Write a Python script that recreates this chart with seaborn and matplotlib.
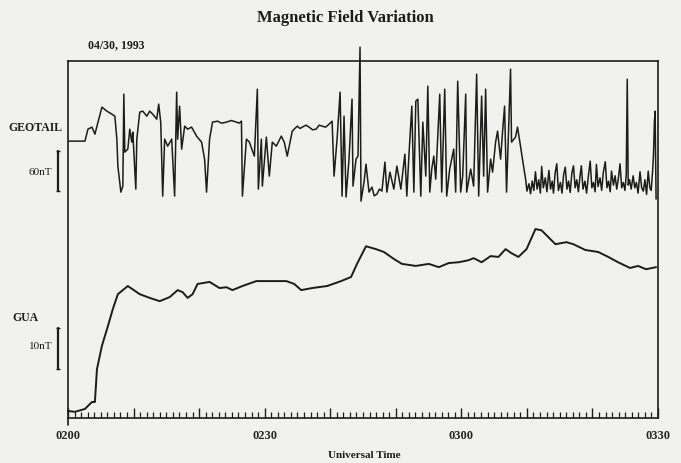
## import packages
import pandas as pd
import numpy as np
import matplotlib
matplotlib.use('Agg')
import matplotlib.pyplot as plt
from matplotlib.ticker import MultipleLocator, FuncFormatter
import seaborn as sns

## data: minutes after 0200 UT, field deviation in nT
geotail_min = [0.15, 2.58, 3.04, 3.65, 4.10, 5.17, 5.93, 6.69, 7.14, 7.45, 7.60, 8.06, 8.36, 8.51,
               8.66, 9.12, 9.42, 9.73, 9.88, 10.34, 10.49, 10.94, 11.40, 12.01, 12.46, 12.92, 13.53,
               13.83, 14.14, 14.44, 14.74, 15.20, 15.81, 16.26, 16.57, 16.72, 17.02, 17.33, 17.79,
               18.24, 18.85, 19.61, 20.37, 20.83, 21.13, 21.59, 22.04, 22.80, 23.40, 24.17, 24.90, 25.69, 26.10, 26.45,
               26.60, 27.21, 27.66, 28.42, 28.88, 29.03, 29.49, 29.64, 30.25, 30.70, 31.16, 31.77,
               32.53, 32.98, 33.44, 34.20, 34.96, 35.40, 35.72, 36.30, 36.78, 37.30, 37.85, 38.30, 38.76, 39.30, 39.82, 40.28, 40.58,
               41.04, 41.50, 41.80, 42.10, 42.41, 42.86, 43.32, 43.47, 43.93, 44.23, 44.54, 44.69,
               45.15, 45.45, 45.91, 46.36, 46.70, 47.12, 47.50, 47.88, 48.34, 48.64, 49.10, 49.70, 50.16, 50.77,
               51.38, 51.68, 51.99, 52.44, 52.75, 53.05, 53.36, 53.81, 54.12, 54.57, 54.88, 55.18,
               55.48, 55.79, 56.09, 56.70, 57.00, 57.46, 57.76, 58.22, 58.83, 59.13, 59.44, 59.89,
               60.20, 60.66, 60.81, 61.42, 61.87, 62.33, 62.64, 63.09, 63.40, 63.70, 64.00, 64.46,
               64.76, 65.22, 65.52, 65.98, 66.28, 66.59, 66.89, 67.50, 67.65, 68.26, 68.56, 69.02, 69.48,
               69.80, 70.00, 70.30, 70.55, 70.80, 71.05, 71.30, 71.55, 71.80, 72.05,
               72.25, 72.50, 72.80, 73.05, 73.35, 73.60, 73.85, 74.05, 74.30, 74.55,
               74.80, 75.10, 75.35, 75.60, 75.85, 76.10, 76.35, 76.60, 76.85, 77.10,
               77.35, 77.60, 77.85, 78.10, 78.30, 78.55, 78.85, 79.10, 79.40, 79.65,
               79.90, 80.15, 80.40, 80.60, 80.85, 81.15, 81.40, 81.65, 81.95, 82.20,
               82.45, 82.70, 82.90, 83.20, 83.45, 83.70, 83.95, 84.20, 84.45, 84.70,
               84.95, 85.15, 85.30, 85.45, 85.65, 85.90, 86.20, 86.45, 86.70, 86.95,
               87.25, 87.50, 87.75, 88.00, 88.25, 88.50, 88.75, 88.95, 89.15, 89.30,
               89.45, 89.55, 89.70]
geotail_nT = [0, 0, 18, 21, 10.5, 51, 45, 40.5, 37.5, 3, -37.5, -76.5, -67.5, 70.5,
              -16.5, -12, 18, -1.5, 13.5, -72, 3, 43.5, 45, 37.5, 45, 40.5, 33,
              55.5, 28.5, -82.5, 3, -7.5, 3, -82.5, 73.5, 3, 52.5, -12, 22.5,
              18, 21, 7.5, -1.5, -27, -76.5, 3, 28.5, 30, 27, 28.5, 31, 28.5, 27, 30,
              -82.5, 3, -1.5, -22.5, 78, -72, 3, -67.5, 6, -52.5, -1.5, -7.5,
              7.5, -1.5, -22.5, 15, 22.5, 19, 21, 24, 21, 17, 18, 24, 22.5, 21, 25.5, 30, -52.5,
              3, 73.5, -82.5, 37.5, -84, -27, 63, -67.5, -27, -22.5, 141, -90,
              -61.5, -34.5, -76.5, -69, -82, -79.5, -72, -75, -31.5, -76.5, -46.5, -72, -37.5, -72,
              -19.5, -82.5, -22.5, 52.5, -76.5, 60, 63, -82.5, 28.5, -52.5, 82.5, -76.5,
              -42, -22.5, -57, 70.5, -76.5, 78, -82.5, -42, -12, -76.5, 90, -76.5,
              -52.5, 70.5, -76.5, -42, -67.5, 100.5, -82.5, 67.5, -52.5, 78, -76.5, -27,
              -46.5, -1.5, 15, -27, 13.5, 52.5, -76.5, 108, -1.5, 6, 21, -7.5, -37.5,
              -57, -75, -64, -79, -60, -74, -46, -72, -58, -78,
              -38, -70, -55, -76, -44, -72, -60, -78, -48, -34,
              -74, -62, -78, -50, -39, -72, -60, -77, -48, -37,
              -70, -58, -76, -52, -37, -72, -60, -78, -50, -30,
              -70, -62, -76, -35, -68, -55, -74, -47, -31, -70,
              -60, -76, -45, -66, -52, -72, -56, -34, -70, -62,
              -74, -50, 93, -66, -58, -72, -52, -70, -62, -78,
              -46, -70, -75, -58, -80, -45, -70, -74, -48, -22,
              30, 45, -87]

gua_min = [0.00, 1.06, 2.58, 3.65, 4.10, 4.41, 5.17, 6.08, 6.84, 7.60, 9.12, 10.94, 12.46, 13.99,
           15.51, 16.72, 17.48, 18.24, 19.00, 19.76, 21.59, 23.11, 24.17, 25.08, 26.60, 28.73,
           31.77, 33.29, 34.51, 35.57, 37.24, 39.53, 41.65, 43.17, 44.08, 45.45, 46.97, 48.19,
           49.70, 50.93, 53.05, 55.03, 56.55, 58.07, 59.59, 61.11, 61.87, 63.09, 64.46, 65.66,
           66.74, 67.65, 68.70, 69.94, 71.30, 72.22, 74.35, 76.02, 77.08, 78.90, 80.88, 82.40,
           83.90, 85.73, 86.95, 88.16, 89.70]
gua_nT = [0.0, -0.2, 0.5, 2.2, 2.2, 10.2, 15.9, 20.7, 24.9, 28.5, 30.5, 28.5, 27.6, 26.8,
          27.8, 29.5, 29.0, 27.6, 28.5, 31.0, 31.5, 30.0, 30.2, 29.5, 30.5, 31.7,
          31.7, 31.7, 31.0, 29.5, 30.0, 30.5, 31.7, 32.7, 35.9, 40.2, 39.5, 38.8,
          37.1, 35.9, 35.4, 35.9, 35.1, 36.1, 36.3, 36.8, 37.3, 36.3, 37.8, 37.6,
          39.5, 38.5, 37.6, 39.5, 44.4, 44.1, 40.7, 41.2, 40.7, 39.3, 38.8, 37.6,
          36.3, 34.9, 35.4, 34.6, 35.1]

tick_labels = {0: '0200', 30: '0230', 60: '0300', 90: '0330'}

## stacking of the two traces on a shared panel (panel units)
geotail_base, geotail_scale = 277, 40 / 60
gua_base, gua_scale = 7, 4.1

geotail_df = pd.DataFrame({'minute': geotail_min,
                           'y': np.array(geotail_nT) * geotail_scale + geotail_base})
gua_df = pd.DataFrame({'minute': gua_min,
                       'y': np.array(gua_nT) * gua_scale + gua_base})

## style
sns.set_style('white')
plt.rcParams['font.family'] = ['Liberation Serif', 'DejaVu Serif']
paper = '#f1f1ef'
ink = '#1c1c1c'

fig = plt.figure(figsize=(6.81, 4.64), dpi=100, facecolor=paper)
ax = fig.add_axes([0.0999, 0.097, 0.8664, 0.769], facecolor=paper)

sns.lineplot(data=geotail_df, x='minute', y='y', estimator=None, sort=False,
             color=ink, linewidth=1.1, ax=ax)
sns.lineplot(data=gua_df, x='minute', y='y', estimator=None, sort=False,
             color=ink, linewidth=1.4, ax=ax)
for ln in ax.lines:
    ln.set_clip_on(False)

ax.set_xlim(0, 90)
ax.set_ylim(0, 357)
ax.set(xlabel='', ylabel='')
ax.set_yticks([])

for side in ['left', 'right', 'top', 'bottom']:
    ax.spines[side].set_visible(True)
    ax.spines[side].set_color(ink)
    ax.spines[side].set_linewidth(1.2)
# the left border runs a little past the time axis in the scan
ax.plot([0, 0], [0, -7], color=ink, lw=1.2, clip_on=False)

## ticks: every minute, taller every ten, labelled every thirty
ax.xaxis.set_major_locator(MultipleLocator(10))
ax.xaxis.set_minor_locator(MultipleLocator(1))
ax.xaxis.set_major_formatter(FuncFormatter(lambda v, p: tick_labels.get(int(round(v)), '')))
ax.tick_params(axis='x', which='major', direction='in', length=7, width=1.0,
               color=ink, labelsize=9, pad=8, bottom=True, top=False)
ax.tick_params(axis='x', which='minor', direction='in', length=4.5, width=0.9,
               color=ink, bottom=True, top=False)
for lab in ax.get_xticklabels():
    lab.set_fontweight('bold')

## scale bars and trace labels
ax.plot([-1.5, -1.5], [geotail_base - 50, geotail_base - 50 + 60 * geotail_scale],
        color=ink, lw=1.6, marker='_', ms=3, clip_on=False)
ax.plot([-1.5, -1.5], [gua_base + 42, gua_base + 42 + 10 * gua_scale],
        color=ink, lw=1.6, marker='_', ms=3, clip_on=False)
ax.text(-0.9, geotail_base + 14, 'GEOTAIL', ha='right', va='center', fontsize=8.5,
        fontweight='bold', color=ink, clip_on=False)
ax.text(-2.4, geotail_base - 30, '60nT', ha='right', va='center', fontsize=8,
        color=ink, clip_on=False)
ax.text(-4.5, gua_base + 94, 'GUA', ha='right', va='center', fontsize=8.5,
        fontweight='bold', color=ink, clip_on=False)
ax.text(-2.4, gua_base + 66, '10nT', ha='right', va='center', fontsize=8,
        color=ink, clip_on=False)

fig.text(0.129, 0.896, '04/30, 1993', fontsize=8.5, fontweight='bold', color=ink)
fig.text(0.507, 0.952, 'Magnetic Field Variation', ha='center', fontsize=12,
         fontweight='bold', color=ink)
fig.text(0.535, 0.012, 'Universal Time', ha='center', fontsize=8, fontweight='bold', color=ink)

## save the plot
plt.savefig('out.png', dpi=100, facecolor=paper)
